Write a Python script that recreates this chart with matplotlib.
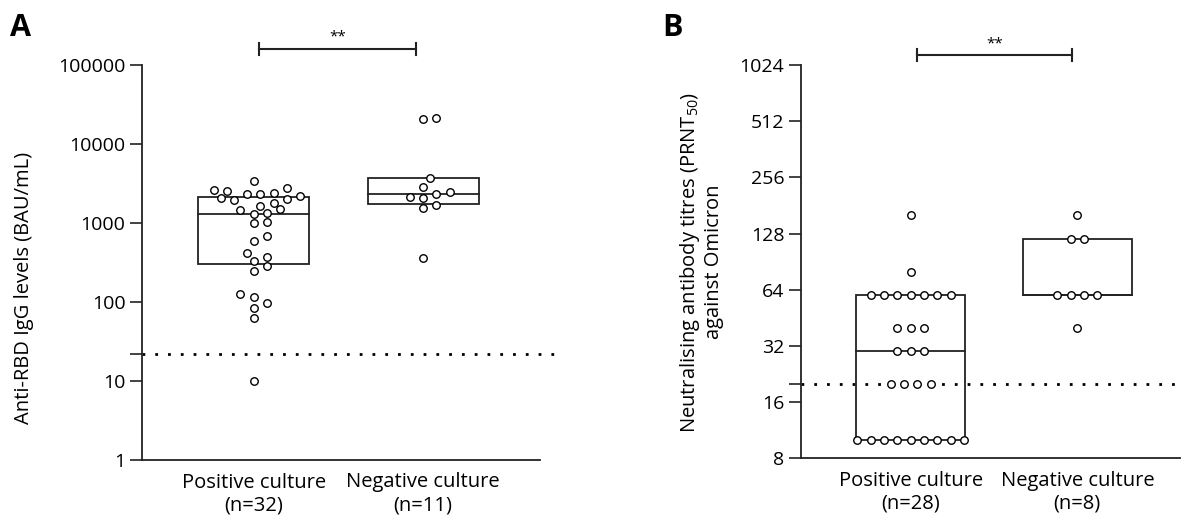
import numpy as np
import matplotlib
matplotlib.use("Agg")
import matplotlib.pyplot as plt
from matplotlib.patches import Rectangle
from matplotlib.transforms import blended_transform_factory

plt.rcParams['font.family'] = ['Open Sans', 'DejaVu Sans']
plt.rcParams['mathtext.fontset'] = 'custom'
plt.rcParams['mathtext.rm'] = 'Open Sans'

# Panel A: anti-RBD IgG (BAU/mL)
groups = ["Positive culture\n(n=32)", "Negative culture\n(n=11)"]
igg_pos = [2590, 2330, 2750, 3400, 2330, 2420, 2540, 2200, 1810, 1960, 2000, 2050,
           1460, 1500, 1640, 1300, 1330, 990, 1020, 690, 590, 375, 413, 333,
           283, 247, 115, 126, 98, 83, 63, 10]
igg_neg = [20500, 21500, 3700, 2880, 2470, 2310, 2110, 2090, 1710, 1560, 357]
igg_box = [(303, 1300, 2115), (1754, 2307, 3680)]   # q1, median, q3
igg_cutoff = 22

# Panel B: PRNT50 titres against Omicron
groups_b = ["Positive culture\n(n=28)", "Negative culture\n(n=8)"]
prnt_pos = [160, 80] + [60] * 7 + [40] * 3 + [30] * 3 + [20] * 4 + [10] * 9
prnt_neg = [160, 120, 120, 60, 60, 60, 60, 40]
prnt_box = [(10, 30, 60), (60, 60, 120)]
prnt_cutoff = 20

W, H = 1182, 519
fig = plt.figure(figsize=(W / 100, H / 100), dpi=100)

def px_axes(l, r, t, b):
    return fig.add_axes([l / W, (H - b) / H, (r - l) / W, (b - t) / H])

ink = '#222222'

def swarm(ax, x0, vals, step=6.65, mind=9.0):
    pts = ax.transData.transform(np.column_stack([np.full(len(vals), x0), vals]))
    ys = pts[:, 1]
    vals = np.asarray(vals, float)
    offs = np.zeros(len(vals))
    placed = []
    uniq, counts = np.unique(vals, return_counts=True)
    for u, c in zip(uniq, counts):
        if c > 1:
            idx = np.where(vals == u)[0]
            for i, k in enumerate(idx):
                offs[k] = (i - (c - 1) / 2) * 2 * step
                placed.append((offs[k], ys[k]))
    singles = [k for k in np.argsort(vals) if counts[np.searchsorted(uniq, vals[k])] == 1]
    for k in singles:
        cands = [0.0]
        for j in range(1, 12):
            cands += [j * step, -j * step]
        for c in cands:
            if all(np.hypot(c - px, ys[k] - py) >= mind for px, py in placed):
                offs[k] = c
                placed.append((c, ys[k]))
                break
    ppu = ax.transData.transform([[1, 1]])[0, 0] - ax.transData.transform([[0, 1]])[0, 0]
    return x0 + offs / ppu

def panel(ax, series, boxes, labels, cutoff, width):
    for i, (vals, (q1, med, q3)) in enumerate(zip(series, boxes)):
        ax.add_patch(Rectangle((i - width / 2, q1), width, q3 - q1, fill=False,
                               ec=ink, lw=1.3, zorder=2))
        ax.plot([i - width / 2, i + width / 2], [med, med], color=ink, lw=1.3, zorder=2)
        xs = swarm(ax, i, vals)
        ax.plot(xs, vals, 'o', ms=5.4, mfc='white', mec='black', mew=1.0, zorder=3)
    ax.set_xticks([0, 1])
    ax.set_xticklabels(labels, fontsize=14.5, linespacing=1.2)
    ax.tick_params(axis='x', length=0, pad=9)
    ax.tick_params(axis='y', length=9, width=1.2, color=ink, labelsize=14, pad=3)
    ax.minorticks_off()
    for s in ['top', 'right']:
        ax.spines[s].set_visible(False)
    for s in ['left', 'bottom']:
        ax.spines[s].set_linewidth(1.3)
        ax.spines[s].set_color(ink)

def bracket(ax, x0, x1, yax, ystar):
    tr = blended_transform_factory(ax.transData, ax.transAxes)
    ax.plot([x0, x1], [yax, yax], color=ink, lw=1.5, transform=tr, clip_on=False)
    for x in (x0, x1):
        ax.plot([x, x], [yax - 0.016, yax + 0.016], color=ink, lw=1.5, transform=tr, clip_on=False)
    ax.text((x0 + x1) / 2, ystar, '**', transform=tr, ha='center', va='center', fontsize=11)

# ---- Panel A
axA = px_axes(142, 540, 65, 460)
axA.set_yscale('log')
axA.set_ylim(1, 100000)
axA.set_xlim(-0.66, 1.69)
ticksA = [1, 10, igg_cutoff, 100, 1000, 10000, 100000]
axA.set_yticks(ticksA)
axA.set_yticklabels(['' if t == igg_cutoff else str(t) for t in ticksA])
panel(axA, [igg_pos, igg_neg], igg_box, groups, igg_cutoff, 0.656)
axA.plot([-0.66, 1.81], [igg_cutoff] * 2, color='black', lw=2.0,
         ls=(0, (1, 3.6)), clip_on=False, zorder=1)
bracket(axA, 0.033, 0.957, 1.0405, 1.071)
fig.text(24 / W, 1 - 288 / H, 'Anti-RBD IgG levels (BAU/mL)', rotation=90,
         ha='center', va='center', fontsize=14.5)
fig.text(10 / W, 1 - 28 / H, 'A', fontsize=22, fontweight='bold', ha='left', va='center')

# ---- Panel B
axB = px_axes(801, 1180, 65, 458.3)
axB.set_yscale('log', base=2)
axB.set_ylim(8, 1024)
axB.set_xlim(-0.658, 1.616)
ticksB = [8, 16, prnt_cutoff, 32, 64, 128, 256, 512, 1024]
axB.set_yticks(ticksB)
axB.set_yticklabels(['' if t == prnt_cutoff else str(t) for t in ticksB])
panel(axB, [prnt_pos, prnt_neg], prnt_box, groups_b, prnt_cutoff, 0.654)
axB.plot([-0.658, 1.616], [prnt_cutoff] * 2, color='black', lw=2.0,
         ls=(0, (1, 3.6)), clip_on=False, zorder=1)
bracket(axB, 0.038, 0.968, 1.0254, 1.053)
fig.text(701 / W, 1 - 262 / H,
         'Neutralising antibody titres (PRNT$_{50}$)\nagainst Omicron', rotation=90,
         ha='center', va='center', fontsize=14.5, multialignment='center', linespacing=1.15)
fig.text(662 / W, 1 - 28 / H, 'B', fontsize=22, fontweight='bold', ha='left', va='center')

fig.savefig('out.png', dpi=100)
